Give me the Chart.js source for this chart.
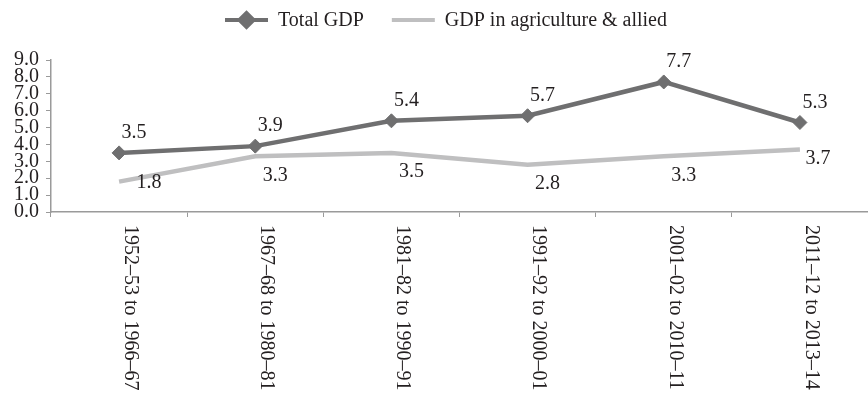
<!DOCTYPE html>
<html>
<head>
<meta charset="utf-8">
<script src="https://cdn.jsdelivr.net/npm/chart.js@4/dist/chart.umd.min.js"></script>
<style>
    body { margin: 0; background: #fff; }
    #wrap { width: 868px; height: 394px; }
</style>
</head>
<body>
<div id="wrap"><canvas id="gdpChart" width="868" height="394"></canvas></div>
<script>
const periods = [
    "1952–53 to 1966–67",
    "1967–68 to 1980–81",
    "1981–82 to 1990–91",
    "1991–92 to 2000–01",
    "2001–02 to 2010–11",
    "2011–12 to 2013–14"
];
const totalGdp = [3.5, 3.9, 5.4, 5.7, 7.7, 5.3];
const agriGdp = [1.8, 3.3, 3.5, 2.8, 3.3, 3.7];
const yTicks = [0, 1, 2, 3, 4, 5, 6, 7, 8, 9];

const FONT = "'Liberation Serif', 'Times New Roman', serif";
const TEXT = "#231f20";
const DARK = "#6f6f70";
const LIGHT = "#bfbfc0";
const AXIS = "#9a9a9a";

// where each value label sits relative to its point
function labelOffset(ds, i, n) {
    if (ds === 0) return [15, -20];
    if (i === 0) return [30, 1];
    if (i === n - 1) return [18, 9];
    return [20, 19];
}

const valueLabels = {
    id: "valueLabels",
    afterDatasetsDraw(chart) {
        const ctx = chart.ctx;
        ctx.save();
        ctx.font = "20px " + FONT;
        ctx.fillStyle = TEXT;
        ctx.textAlign = "center";
        ctx.textBaseline = "middle";
        chart.data.datasets.forEach((dataset, d) => {
            const meta = chart.getDatasetMeta(d);
            meta.data.forEach((pt, i) => {
                const [dx, dy] = labelOffset(d, i, meta.data.length);
                ctx.fillText(dataset.data[i].toFixed(1), pt.x + dx, pt.y + dy);
            });
        });
        ctx.restore();
    }
};

// category labels read top to bottom, as in the original
const periodLabels = {
    id: "periodLabels",
    afterDraw(chart) {
        const ctx = chart.ctx;
        const xScale = chart.scales.x;
        ctx.save();
        ctx.font = "20px " + FONT;
        ctx.fillStyle = TEXT;
        ctx.textAlign = "left";
        ctx.textBaseline = "middle";
        periods.forEach((label, i) => {
            const x = xScale.getPixelForValue(i) + 11;
            ctx.save();
            ctx.translate(x, xScale.bottom + 8);
            ctx.rotate(Math.PI / 2);
            ctx.fillText(label, 0, 0);
            ctx.restore();
        });
        ctx.restore();
    }
};

const lineLegend = {
    id: "lineLegend",
    afterDraw(chart) {
        const ctx = chart.ctx;
        ctx.save();
        ctx.font = "20px " + FONT;
        const lineLen = 43;
        const gap = 10;
        const itemGap = 28;
        const widths = chart.data.datasets.map((ds) => lineLen + gap + ctx.measureText(ds.label).width);
        const total = widths.reduce((a, b) => a + b, 0) + itemGap * (widths.length - 1);
        let x = 446 - total / 2;
        const y = 20;
        chart.data.datasets.forEach((ds, i) => {
            ctx.strokeStyle = ds.borderColor;
            ctx.lineWidth = 4;
            ctx.beginPath();
            ctx.moveTo(x, y);
            ctx.lineTo(x + lineLen, y);
            ctx.stroke();
            if (ds.pointRadius > 0) {
                ctx.fillStyle = ds.pointBackgroundColor;
                ctx.strokeStyle = ds.pointBorderColor;
                Chart.helpers.drawPoint(ctx, {
                    pointStyle: "rectRot",
                    radius: 7,
                    borderWidth: 1
                }, x + lineLen / 2, y);
            }
            ctx.fillStyle = TEXT;
            ctx.textAlign = "left";
            ctx.textBaseline = "middle";
            ctx.fillText(ds.label, x + lineLen + gap, y + 1);
            x += widths[i] + itemGap;
        });
        ctx.restore();
    }
};

new Chart(document.getElementById("gdpChart"), {
    type: "line",
    data: {
        labels: periods,
        datasets: [
            {
                label: "Total GDP",
                data: totalGdp,
                borderColor: DARK,
                backgroundColor: DARK,
                borderWidth: 4.5,
                pointStyle: "rectRot",
                pointRadius: 7,
                pointBackgroundColor: DARK,
                pointBorderColor: DARK,
                pointBorderWidth: 1,
                tension: 0
            },
            {
                label: "GDP in agriculture & allied",
                data: agriGdp,
                borderColor: LIGHT,
                backgroundColor: LIGHT,
                borderWidth: 4.5,
                pointRadius: 0,
                tension: 0
            }
        ]
    },
    options: {
        responsive: false,
        animation: false,
        layout: {
            autoPadding: false,
            padding: { top: 60, left: 7, right: 0, bottom: 177 }
        },
        plugins: {
            legend: { display: false },
            tooltip: { enabled: false }
        },
        scales: {
            x: {
                offset: true,
                grid: {
                    offset: true,
                    drawOnChartArea: false,
                    drawTicks: true,
                    tickLength: 5,
                    color: AXIS
                },
                border: { color: AXIS, width: 1.5 },
                ticks: { display: false }
            },
            y: {
                min: 0,
                max: 9,
                afterBuildTicks: (scale) => {
                    scale.ticks = yTicks.map((v) => ({ value: v }));
                },
                grid: {
                    drawOnChartArea: false,
                    drawTicks: true,
                    tickLength: 5,
                    color: AXIS
                },
                border: { color: AXIS, width: 1.5 },
                ticks: {
                    autoSkip: false,
                    padding: 7,
                    color: TEXT,
                    font: { family: FONT, size: 20 },
                    callback: (value) => Number(value).toFixed(1)
                }
            }
        }
    },
    plugins: [valueLabels, periodLabels, lineLegend]
});
</script>
</body>
</html>
